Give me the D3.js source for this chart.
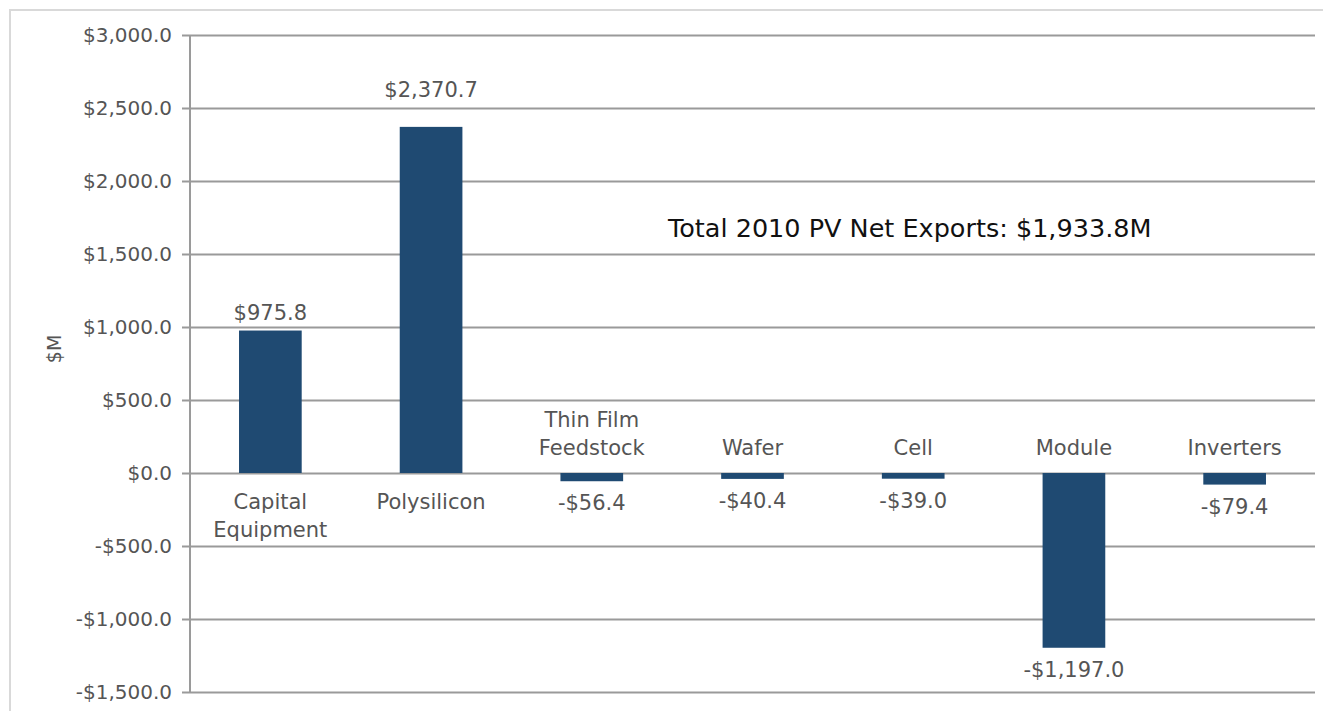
<!DOCTYPE html>
<html>
<head>
<meta charset="utf-8">
<title>PV Net Exports 2010</title>
<script src="https://cdn.jsdelivr.net/npm/d3@7"></script>
<style>
  body { margin: 0; background: #fff; }
  text { font-family: "DejaVu Sans", sans-serif; fill: #555; }
</style>
</head>
<body>
<script>
// data
var categories = ["Capital\nEquipment", "Polysilicon", "Thin Film\nFeedstock", "Wafer", "Cell", "Module", "Inverters"];
var values = [975.8, 2370.7, -56.4, -40.4, -39.0, -1197.0, -79.4];
var valueLabels = ["$975.8", "$2,370.7", "-$56.4", "-$40.4", "-$39.0", "-$1,197.0", "-$79.4"];
var yTicks = [-1500, -1000, -500, 0, 500, 1000, 1500, 2000, 2500, 3000];
var note = "Total 2010 PV Net Exports: $1,933.8M";

var w = 1323, h = 711;
var plotL = 190, plotR = 1315, plotT = 35, plotB = 692;

var svg = d3.select("body").append("svg")
    .attr("width", w)
    .attr("height", h);

// light outer frame
svg.append("path")
    .attr("d", "M10," + h + "V10H" + w)
    .attr("fill", "none")
    .attr("stroke", "#d9d9d9")
    .attr("stroke-width", 2);

var x = d3.scaleBand()
    .domain(d3.range(categories.length))
    .range([plotL, plotR])
    .paddingInner(0.61)
    .paddingOuter(0.305);

var y = d3.scaleLinear()
    .domain([-1500, 3000])
    .range([plotB, plotT]);

var fmt = function(d) {
    return (d < 0 ? "-" : "") + "$" + d3.format(",.1f")(Math.abs(d));
};

// gridlines + y axis
var yAxis = d3.axisLeft(y)
    .tickValues(yTicks)
    .tickSize(-(plotR - plotL + 8))
    .tickPadding(10)
    .tickFormat(fmt);

var gy = svg.append("g")
    .attr("transform", "translate(" + (plotL - 8) + ",0)")
    .call(yAxis);
gy.select(".domain").remove();
gy.selectAll(".tick line")
    .attr("stroke", "#9a9a9a")
    .attr("stroke-width", 2);
gy.selectAll(".tick text")
    .attr("font-size", "20px")
    .attr("font-family", "DejaVu Sans")
    .attr("fill", "#555");

svg.append("line")
    .attr("x1", plotL).attr("x2", plotL)
    .attr("y1", y(3000)).attr("y2", y(-1500))
    .attr("stroke", "#9a9a9a")
    .attr("stroke-width", 2);

// y title
svg.append("text")
    .attr("transform", "translate(61," + y(850) + ") rotate(-90)")
    .attr("text-anchor", "middle")
    .attr("font-size", "19px")
    .text("$M");

// bars
svg.selectAll("rect.bar")
    .data(values)
    .enter().append("rect")
    .attr("class", "bar")
    .attr("x", function(d, i) { return x(i); })
    .attr("width", x.bandwidth())
    .attr("y", function(d) { return y(Math.max(0, d)); })
    .attr("height", function(d) { return Math.abs(y(d) - y(0)); })
    .attr("fill", "#1f4a72");

// value labels (tallest one sits a bit higher, like the original)
var vmax = d3.max(values);
svg.selectAll("text.val")
    .data(values)
    .enter().append("text")
    .attr("class", "val")
    .attr("x", function(d, i) { return x(i) + x.bandwidth() / 2; })
    .attr("y", function(d) {
        if (d >= 0) return y(d) - (d === vmax ? 30 : 11);
        return y(d) + 29;
    })
    .attr("text-anchor", "middle")
    .attr("font-size", "21px")
    .text(function(d, i) { return valueLabels[i]; });

// category labels: below zero for positive bars, above zero for negative bars
categories.forEach(function(c, i) {
    var lines = c.split("\n");
    var cx = x(i) + x.bandwidth() / 2;
    var t = svg.append("text")
        .attr("text-anchor", "middle")
        .attr("font-size", "21px");
    lines.forEach(function(s, j) {
        var yy;
        if (values[i] >= 0) yy = y(0) + 36 + j * 28;
        else yy = y(0) - 18 - (lines.length - 1 - j) * 28;
        t.append("tspan").attr("x", cx).attr("y", yy).text(s);
    });
});

// annotation
svg.append("text")
    .attr("x", 668)
    .attr("y", y(1615))
    .attr("font-size", "25.5px")
    .style("fill", "#111")
    .text(note);
</script>
</body>
</html>
